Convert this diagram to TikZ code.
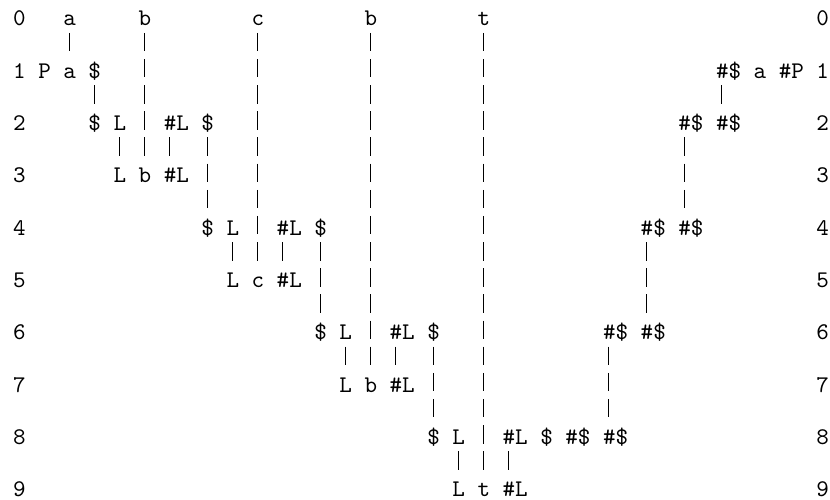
\documentclass[tikz,border=0pt]{standalone}
\usepackage{tikz}
\tikzset{
  tok/.style={font=\ttfamily,inner sep=0pt,anchor=base west},
  bar/.style={line width=0.45pt,dash pattern=on 7.70pt off 3.24pt},
}
\newcommand\lnk[2]{\draw[bar] ([xshift=2.625pt,yshift=-2.87pt]#1.base west) -- ([xshift=2.625pt,yshift=11.31pt]#2.base west);}

\begin{document}
\begin{tikzpicture}[x=5.25pt,y=10.94pt]
  \useasboundingbox (-1.01,0.994) rectangle (65.12,-18.09);
  \foreach \r in {0,...,9} {
    \node[tok] (l\r) at (0,-2*\r) {\r};
    \node[tok] (r\r) at (64,-2*\r) {\r};
  }
  \node[tok] (a0) at (4,0) {a};
  \node[tok] (b0) at (10,0) {b};
  \node[tok] (c0) at (19,0) {c};
  \node[tok] (bb0) at (28,0) {b};
  \node[tok] (t0) at (37,0) {t};
  \node[tok] (p1) at (2,-2) {P};
  \node[tok] (a1) at (4,-2) {a};
  \node[tok] (d1) at (6,-2) {\$};
  \node[tok] (hd1) at (56,-2) {\#\$};
  \node[tok] (ra1) at (59,-2) {a};
  \node[tok] (hp1) at (61,-2) {\#P};
  \node[tok] (d2) at (6,-4) {\$};
  \node[tok] (L2) at (8,-4) {L};
  \node[tok] (hl2) at (12,-4) {\#L};
  \node[tok] (dd2) at (15,-4) {\$};
  \node[tok] (hd2a) at (53,-4) {\#\$};
  \node[tok] (hd2b) at (56,-4) {\#\$};
  \node[tok] (L3) at (8,-6) {L};
  \node[tok] (b3) at (10,-6) {b};
  \node[tok] (hl3) at (12,-6) {\#L};
  \node[tok] (d4) at (15,-8) {\$};
  \node[tok] (L4) at (17,-8) {L};
  \node[tok] (hl4) at (21,-8) {\#L};
  \node[tok] (dd4) at (24,-8) {\$};
  \node[tok] (hd4a) at (50,-8) {\#\$};
  \node[tok] (hd4b) at (53,-8) {\#\$};
  \node[tok] (L5) at (17,-10) {L};
  \node[tok] (c5) at (19,-10) {c};
  \node[tok] (hl5) at (21,-10) {\#L};
  \node[tok] (d6) at (24,-12) {\$};
  \node[tok] (L6) at (26,-12) {L};
  \node[tok] (hl6) at (30,-12) {\#L};
  \node[tok] (dd6) at (33,-12) {\$};
  \node[tok] (hd6a) at (47,-12) {\#\$};
  \node[tok] (hd6b) at (50,-12) {\#\$};
  \node[tok] (L7) at (26,-14) {L};
  \node[tok] (b7) at (28,-14) {b};
  \node[tok] (hl7) at (30,-14) {\#L};
  \node[tok] (d8) at (33,-16) {\$};
  \node[tok] (L8) at (35,-16) {L};
  \node[tok] (hl8) at (39,-16) {\#L};
  \node[tok] (dd8) at (42,-16) {\$};
  \node[tok] (hd8a) at (44,-16) {\#\$};
  \node[tok] (hd8b) at (47,-16) {\#\$};
  \node[tok] (L9) at (35,-18) {L};
  \node[tok] (t9) at (37,-18) {t};
  \node[tok] (hl9) at (39,-18) {\#L};
  \lnk{a0}{a1}
  \lnk{b0}{b3}
  \lnk{c0}{c5}
  \lnk{bb0}{b7}
  \lnk{t0}{t9}
  \lnk{d1}{d2}
  \lnk{L2}{L3}
  \lnk{hl2}{hl3}
  \lnk{dd2}{d4}
  \lnk{L4}{L5}
  \lnk{hl4}{hl5}
  \lnk{dd4}{d6}
  \lnk{L6}{L7}
  \lnk{hl6}{hl7}
  \lnk{dd6}{d8}
  \lnk{L8}{L9}
  \lnk{hl8}{hl9}
  \lnk{hd1}{hd2b}
  \lnk{hd2a}{hd4b}
  \lnk{hd4a}{hd6b}
  \lnk{hd6a}{hd8b}
\end{tikzpicture}
\end{document}
